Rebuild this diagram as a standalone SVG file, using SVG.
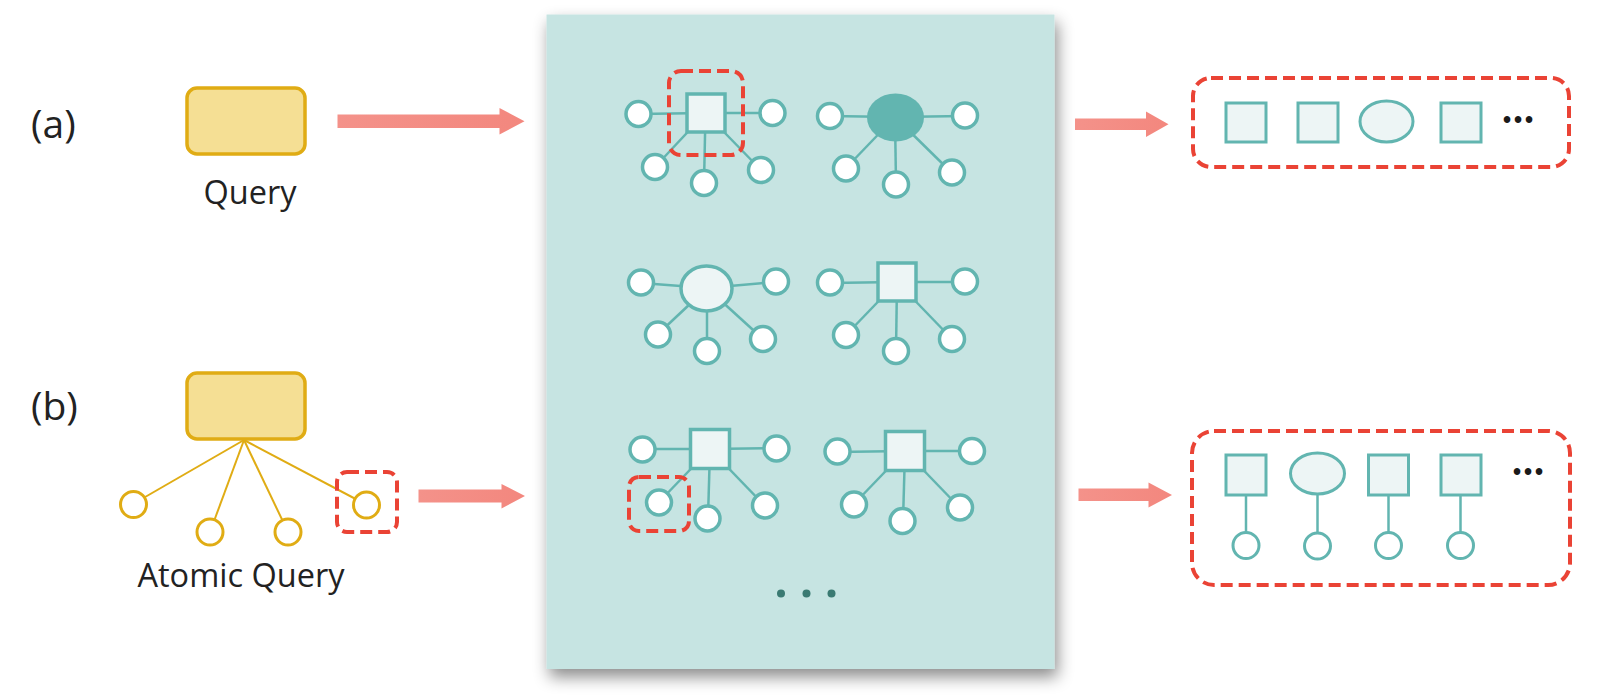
<svg xmlns="http://www.w3.org/2000/svg" width="1619" height="696" viewBox="0 0 1619 696">
<style>
.lbl{font-family:"Open Sans","Liberation Sans",sans-serif;fill:#222;}
.qbox{fill:#F5DF94;stroke:#E0AC14;stroke-width:3.5;}
.ycirc{fill:#fff;stroke:#E0AC14;stroke-width:3;}
.yline{stroke:#E0AC14;stroke-width:2;fill:none;}
.tline{stroke:#62B5B0;stroke-width:2.5;fill:none;}
.tcirc{fill:#fff;stroke:#62B5B0;stroke-width:3.5;}
.thub{fill:#EDF5F5;stroke:#62B5B0;stroke-width:3.5;}
.tdark{fill:#62B5B0;stroke:none;}
.red{fill:none;stroke:#EA4335;stroke-width:4;stroke-dasharray:12 6;}
.arrow{fill:url(#ag);}
.dots{font-family:"Liberation Sans",sans-serif;font-weight:bold;font-size:23px;fill:#1a1a1a;letter-spacing:3px;}
</style>
<defs>
<linearGradient id="ag" x1="0" x2="1" y1="0" y2="0">
<stop offset="0" stop-color="#F4928A"/>
<stop offset="1" stop-color="#F3877E"/>
</linearGradient>
<filter id="sh" x="-10%" y="-10%" width="120%" height="120%">
<feDropShadow dx="3" dy="8" stdDeviation="8" flood-color="#000" flood-opacity="0.45"/>
</filter>
</defs>
<rect width="1619" height="696" fill="#fff"/>

<g id="panel">
<rect x="546.5" y="14.5" width="508" height="654.5" fill="#C6E4E2" filter="url(#sh)"/>
</g>

<g id="label-a"><text class="lbl" x="31" y="138" font-size="39">(a)</text></g>
<g id="label-b"><text class="lbl" x="31" y="420" font-size="39">(b)</text></g>

<g id="query-a">
<rect class="qbox" x="187" y="88" width="118" height="66" rx="10"/>
<text class="lbl" x="250" y="204" font-size="32.5" text-anchor="middle">Query</text>
</g>

<g id="query-b">
<g class="yline">
<line x1="244" y1="440" x2="133" y2="504"/>
<line x1="244" y1="440" x2="210" y2="532"/>
<line x1="244" y1="440" x2="288" y2="532"/>
<line x1="244" y1="440" x2="367" y2="505"/>
</g>
<rect class="qbox" x="187" y="373" width="118" height="66" rx="10"/>
<circle class="ycirc" cx="133.5" cy="504.5" r="13"/>
<circle class="ycirc" cx="210" cy="532" r="13"/>
<circle class="ycirc" cx="288" cy="532" r="13"/>
<circle class="ycirc" cx="366.5" cy="505" r="13"/>
<rect class="red" x="337" y="472" width="60" height="60" rx="10"/>
<text class="lbl" x="241" y="587" font-size="32.5" text-anchor="middle">Atomic Query</text>
</g>

<g id="graph1">
<g class="tline">
<line x1="705.5" y1="113" x2="638" y2="114"/>
<line x1="705.5" y1="113" x2="773" y2="113"/>
<line x1="705.5" y1="113" x2="655" y2="167"/>
<line x1="705.5" y1="113" x2="704" y2="183"/>
<line x1="705.5" y1="113" x2="761" y2="170"/>
</g>
<rect class="thub" x="687" y="94" width="38" height="38"/>
<circle class="tcirc" cx="638.5" cy="114" r="12.5"/>
<circle class="tcirc" cx="772.5" cy="113" r="12.5"/>
<circle class="tcirc" cx="655" cy="167" r="12.5"/>
<circle class="tcirc" cx="704" cy="183" r="12.5"/>
<circle class="tcirc" cx="761" cy="170" r="12.5"/>
<rect class="red" x="669" y="71" width="74" height="84" rx="12"/>
</g>

<g id="graph2">
<g class="tline">
<line x1="895" y1="117" x2="830" y2="116"/>
<line x1="895" y1="117" x2="965" y2="116"/>
<line x1="895" y1="117" x2="846" y2="168"/>
<line x1="895" y1="117" x2="896" y2="184"/>
<line x1="895" y1="117" x2="952" y2="173"/>
</g>
<ellipse class="tdark" cx="895.5" cy="117.5" rx="28.5" ry="24"/>
<circle class="tcirc" cx="830" cy="116" r="12.5"/>
<circle class="tcirc" cx="965" cy="115.5" r="12.5"/>
<circle class="tcirc" cx="846" cy="168.5" r="12.5"/>
<circle class="tcirc" cx="896" cy="184.5" r="12.5"/>
<circle class="tcirc" cx="952" cy="172.5" r="12.5"/>
</g>

<g id="graph3">
<g class="tline">
<line x1="707" y1="288" x2="641" y2="283"/>
<line x1="707" y1="288" x2="776" y2="282"/>
<line x1="707" y1="288" x2="658" y2="334"/>
<line x1="707" y1="288" x2="707" y2="351"/>
<line x1="707" y1="288" x2="763" y2="339"/>
</g>
<ellipse class="thub" cx="706.5" cy="288.5" rx="25.5" ry="22.5"/>
<circle class="tcirc" cx="641" cy="282.5" r="12.5"/>
<circle class="tcirc" cx="776" cy="281.5" r="12.5"/>
<circle class="tcirc" cx="658" cy="334.5" r="12.5"/>
<circle class="tcirc" cx="707" cy="351" r="12.5"/>
<circle class="tcirc" cx="763" cy="339" r="12.5"/>
</g>

<g id="graph4">
<g class="tline">
<line x1="897" y1="282" x2="830" y2="283"/>
<line x1="897" y1="282" x2="965" y2="282"/>
<line x1="897" y1="282" x2="846" y2="335"/>
<line x1="897" y1="282" x2="896" y2="351"/>
<line x1="897" y1="282" x2="952" y2="339"/>
</g>
<rect class="thub" x="878" y="263" width="38" height="38"/>
<circle class="tcirc" cx="830" cy="282.5" r="12.5"/>
<circle class="tcirc" cx="965" cy="281.5" r="12.5"/>
<circle class="tcirc" cx="846" cy="335" r="12.5"/>
<circle class="tcirc" cx="896" cy="351" r="12.5"/>
<circle class="tcirc" cx="952" cy="339" r="12.5"/>
</g>

<g id="graph5">
<g class="tline">
<line x1="710" y1="449" x2="642" y2="449"/>
<line x1="710" y1="449" x2="777" y2="448"/>
<line x1="710" y1="449" x2="659" y2="502"/>
<line x1="710" y1="449" x2="708" y2="518"/>
<line x1="710" y1="449" x2="765" y2="506"/>
</g>
<rect class="thub" x="690.5" y="429.5" width="39" height="39"/>
<circle class="tcirc" cx="642.5" cy="449.5" r="12.5"/>
<circle class="tcirc" cx="776.5" cy="448.5" r="12.5"/>
<circle class="tcirc" cx="659" cy="502.5" r="12.5"/>
<circle class="tcirc" cx="707.5" cy="518.5" r="12.5"/>
<circle class="tcirc" cx="765" cy="505.5" r="12.5"/>
<rect class="red" x="629" y="477" width="60" height="54" rx="10"/>
</g>

<g id="graph6">
<g class="tline">
<line x1="905" y1="451" x2="837" y2="452"/>
<line x1="905" y1="451" x2="972" y2="451"/>
<line x1="905" y1="451" x2="854" y2="504"/>
<line x1="905" y1="451" x2="903" y2="521"/>
<line x1="905" y1="451" x2="960" y2="508"/>
</g>
<rect class="thub" x="885.5" y="431.5" width="39" height="39"/>
<circle class="tcirc" cx="837.5" cy="451.5" r="12.5"/>
<circle class="tcirc" cx="972" cy="451" r="12.5"/>
<circle class="tcirc" cx="854" cy="504.5" r="12.5"/>
<circle class="tcirc" cx="902.5" cy="521" r="12.5"/>
<circle class="tcirc" cx="960" cy="507.5" r="12.5"/>
</g>

<g id="panel-dots" fill="#3A7A72">
<circle cx="781" cy="593.5" r="4"/>
<circle cx="806.5" cy="593.5" r="4"/>
<circle cx="831.5" cy="593.5" r="4"/>
</g>

<g id="result-a">
<rect class="red" x="1193" y="78" width="376" height="89" rx="18"/>
<rect class="thub" x="1226" y="103" width="40" height="39" style="stroke-width:3"/>
<rect class="thub" x="1298" y="103" width="40" height="39" style="stroke-width:3"/>
<ellipse class="thub" cx="1386.5" cy="121.5" rx="26.5" ry="20.5" style="stroke-width:3"/>
<rect class="thub" x="1441" y="103" width="40" height="39" style="stroke-width:3"/>
<text class="dots" x="1503" y="128">•••</text>
</g>

<g id="result-b">
<rect class="red" x="1192" y="431" width="378" height="154" rx="22"/>
<g class="tline">
<line x1="1246" y1="495" x2="1246" y2="532"/>
<line x1="1317.5" y1="494" x2="1317.5" y2="533"/>
<line x1="1388.5" y1="495" x2="1388.5" y2="532"/>
<line x1="1460.5" y1="495" x2="1460.5" y2="532"/>
</g>
<rect class="thub" x="1226" y="455" width="40" height="40" style="stroke-width:3"/>
<ellipse class="thub" cx="1317.5" cy="473.5" rx="27" ry="20.5" style="stroke-width:3"/>
<rect class="thub" x="1368.5" y="455" width="40" height="40" style="stroke-width:3"/>
<rect class="thub" x="1441" y="455" width="40" height="40" style="stroke-width:3"/>
<circle class="tcirc" cx="1246" cy="545.5" r="13" style="stroke-width:3"/>
<circle class="tcirc" cx="1317.5" cy="546" r="13" style="stroke-width:3"/>
<circle class="tcirc" cx="1388.5" cy="545.5" r="13" style="stroke-width:3"/>
<circle class="tcirc" cx="1460.5" cy="545.5" r="13" style="stroke-width:3"/>
<text class="dots" x="1513" y="480">•••</text>
</g>

<g id="connectors">
<polygon class="arrow" points="337.5,114.5 499.5,114.5 499.5,108 524.5,121.3 499.5,134.5 499.5,128 337.5,128"/>
<polygon class="arrow" points="418.5,489.5 501.5,489.5 501.5,484 525,496 501.5,508.5 501.5,502.5 418.5,502.5"/>
<polygon class="arrow" points="1075,118.5 1146,118.5 1146,111.5 1168.5,124.2 1146,137 1146,130 1075,130"/>
<polygon class="arrow" points="1078.5,488.5 1148.5,488.5 1148.5,482.5 1172,495 1148.5,507.5 1148.5,501 1078.5,501"/>
</g>
</svg>
